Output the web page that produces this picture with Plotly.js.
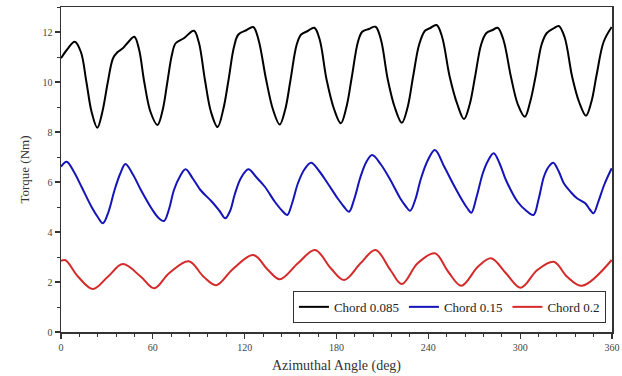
<!DOCTYPE html>
<html>
<head>
<meta charset="utf-8">
<script src="https://cdn.plot.ly/plotly-3.0.1.min.js"></script>
<style>html,body{margin:0;padding:0;background:#fff;}#chart{width:622px;height:376px;}</style>
</head>
<body>
<div id="chart"></div>
<script>
// Chord 0.085 (black)
const angle085 = [0,4,9,13,16.6,20,23.7,27,30.6,34,37,40.4,44,47.9,51,54.4,58.5,63,66.5,69.5,72.5,74.9,80.3,86.8,90,94,98,102.3,106,109.5,113,115.9,121.3,125.6,129,134,138.5,142.9,146.5,150,154,156.9,161.2,165.5,169,173.5,178.5,182.8,186.5,190,194,196.8,201.2,205.5,209,213.5,218,222.7,226.5,230,234,237.8,241,245.4,249,254,259,263.3,267,270.5,274.5,277.8,282.1,285.3,289,294,298.5,303,306.5,310,314,317.3,322,325.2,329,334,338.5,343,346.5,350,354.5,359.8];
const torque085 = [10.95,11.3,11.61,11.2,10.0,8.8,8.17,8.8,10.0,10.95,11.2,11.35,11.6,11.81,11.3,10.0,8.8,8.28,8.9,10.0,11.1,11.55,11.75,12.05,11.6,10.1,8.8,8.2,8.9,10.1,11.4,11.9,12.08,12.2,11.7,10.1,8.9,8.3,8.9,10.1,11.5,11.9,12.04,12.17,11.7,10.1,8.9,8.35,9.0,10.2,11.6,12.01,12.12,12.21,11.7,10.1,9.0,8.37,9.0,10.2,11.5,12.05,12.15,12.28,11.8,10.2,9.1,8.52,9.1,10.2,11.5,11.95,12.08,12.17,11.7,10.2,9.1,8.61,9.2,10.2,11.5,11.95,12.15,12.24,11.8,10.2,9.2,8.65,9.2,10.3,11.6,12.2];

// Chord 0.15 (blue)
const angle015 = [0,3.7,8.5,13.4,19.9,24,27.4,31,35,38.8,42.1,47,52.2,59.8,64,67.3,70.5,73.8,77.5,81.4,86,91.1,98.6,103.5,107.3,110.5,113.5,117.5,122.4,127.5,133.2,139.7,144.5,147.8,151,154.8,159,163.4,168.5,174.2,180.7,185,188.2,191.5,195.7,199.5,203.3,209,215.2,221.6,225,228.1,231.5,235,239.5,244.3,250.5,257.2,262.7,265.5,268.1,271.5,275.6,279,282.7,286.5,290.7,298.3,304,308.7,312,315.5,318.5,321.6,325,328.5,333,337.1,342.5,345.5,347.9,351,355,359.8];
const torque015 = [6.61,6.81,6.4,5.81,5.01,4.6,4.35,4.8,5.68,6.35,6.72,6.3,5.68,4.88,4.55,4.44,4.9,5.68,6.2,6.51,6.15,5.68,5.21,4.85,4.55,4.85,5.5,6.15,6.51,6.2,5.81,5.21,4.85,4.68,5.15,5.95,6.5,6.77,6.45,5.95,5.35,5.0,4.81,5.3,6.21,6.8,7.08,6.7,6.08,5.35,5.05,4.85,5.3,6.1,6.85,7.28,6.6,5.81,5.21,4.95,4.77,5.4,6.35,6.85,7.15,6.75,6.08,5.21,4.85,4.68,5.3,6.21,6.6,6.77,6.45,5.95,5.6,5.35,5.15,4.9,4.75,5.2,5.9,6.55];

// Chord 0.2 (red)
const angle02 = [0,3,11.2,20.9,30.6,40.4,52.2,60.9,70.6,83.5,93.2,101.4,112,125.6,135.3,142.9,154.8,166,176.3,185,195.7,205.5,215.2,222.7,233,244.3,253,261.6,272.4,281,290.7,300.4,311.2,322,330.7,340.4,359.8];
const torque02 = [2.85,2.87,2.21,1.72,2.21,2.72,2.21,1.75,2.35,2.83,2.21,1.87,2.5,3.08,2.48,2.11,2.75,3.28,2.55,2.08,2.75,3.28,2.48,1.92,2.75,3.15,2.41,1.85,2.61,2.95,2.35,1.77,2.48,2.81,2.21,1.85,2.88];

const seriesNames = ["Chord 0.085","Chord 0.15","Chord 0.2"];
const xTicks = [0,60,120,180,240,300,360];
const yTicks = [0,2,4,6,8,10,12];

const serif = "'Liberation Serif', 'Times New Roman', serif";
const mk = (x,y,name,color) => ({x:x,y:y,name:name,type:'scatter',mode:'lines',
  line:{color:color,width:2,shape:'spline',smoothing:1}});

const data = [
  mk(angle085,torque085,seriesNames[0],'#000000'),
  mk(angle015,torque015,seriesNames[1],'#1414b8'),
  mk(angle02,torque02,seriesNames[2],'#d42a2a')
];

const axisCommon = {
  showgrid:false, zeroline:false, showline:true, mirror:true,
  linecolor:'#333', linewidth:1.5,
  ticks:'outside', ticklen:5, tickwidth:1.2, tickcolor:'#333',
  ticklabeloverflow:'allow',
  tickfont:{family:serif,size:10,color:'#444'}
};

const layout = {
  width:622, height:376,
  margin:{l:61,r:10,t:7,b:44},
  paper_bgcolor:'#fff', plot_bgcolor:'#fff',
  showlegend:true,
  legend:{orientation:'h',x:0.989,xanchor:'right',y:0.028,yanchor:'bottom',
    bordercolor:'#333',borderwidth:1,bgcolor:'#fff',
    font:{family:serif,size:13,color:'#222'},itemwidth:30,tracegroupgap:0},
  xaxis:Object.assign({},axisCommon,{range:[0,360],tickvals:xTicks,ticktext:xTicks.map(String),
    minor:{dtick:12,tick0:0,ticks:'outside',ticklen:3,tickcolor:'#333',tickwidth:1},
    title:{text:'Azimuthal Angle (deg)',font:{family:serif,size:14,color:'#333'},standoff:8}}),
  yaxis:Object.assign({},axisCommon,{range:[0,13],tickvals:yTicks,ticktext:yTicks.map(String),
    minor:{dtick:1,tick0:0,ticks:'outside',ticklen:3,tickcolor:'#333',tickwidth:1},
    title:{text:'Torque (Nm)',font:{family:serif,size:13,color:'#333'},standoff:10}})
};

Plotly.newPlot('chart',data,layout,{staticPlot:true,displayModeBar:false});
</script>
</body>
</html>
